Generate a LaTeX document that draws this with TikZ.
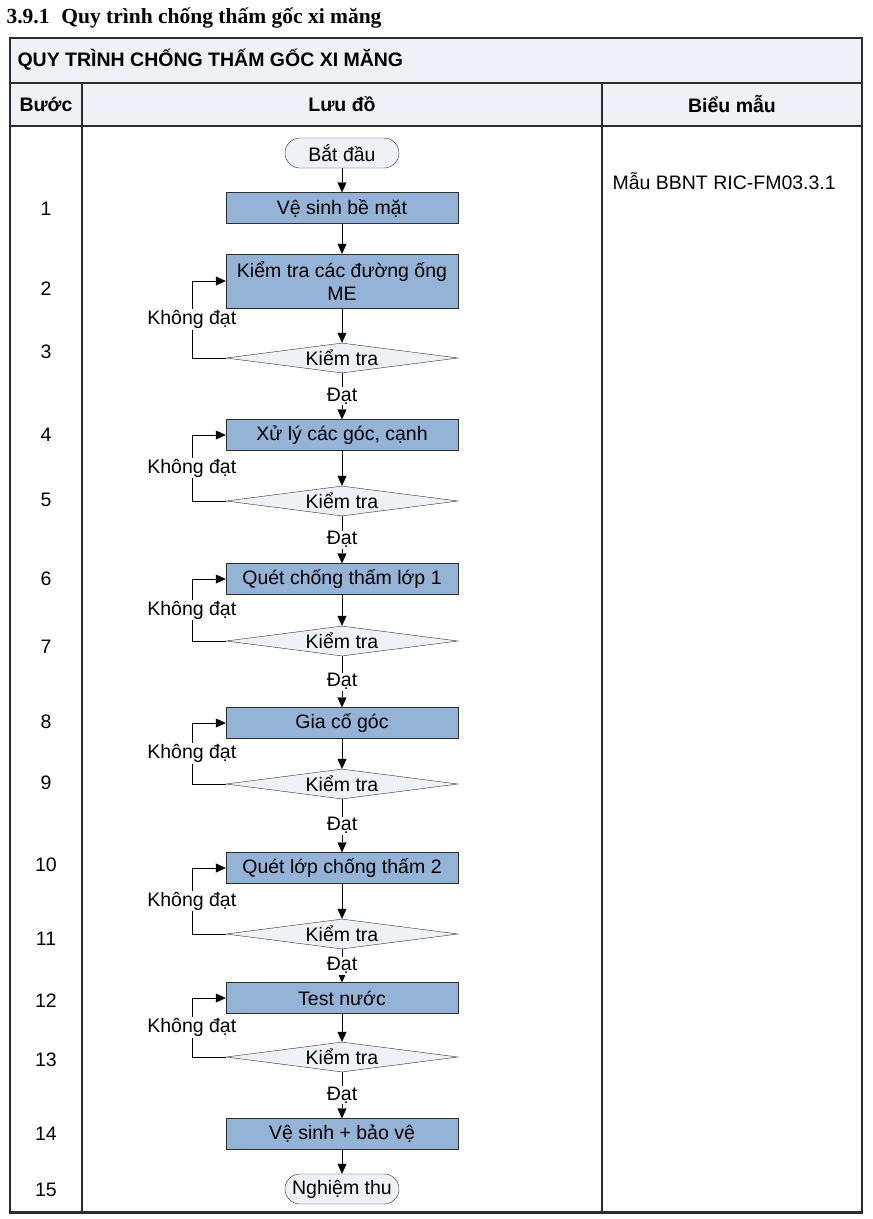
\documentclass[tikz,border=0pt]{standalone}
\usepackage{fontspec}
\setmainfont{Liberation Sans}
\newfontfamily\titlefont{Liberation Serif}
\usetikzlibrary{shapes.geometric,arrows.meta}

\definecolor{boxblue}{RGB}{149,179,215}
\definecolor{headgray}{RGB}{238,241,246}
\definecolor{rulegray}{RGB}{45,45,45}

\tikzset{
	proc/.style={draw=rulegray,fill=boxblue,minimum width=232pt,minimum height=31pt,inner sep=0pt,align=center},
	term/.style={draw=rulegray,fill=headgray,rounded corners=15pt,minimum width=114pt,minimum height=30pt,inner sep=0pt},
	chk/.style={diamond,draw=rulegray,fill=headgray,aspect=7.7,minimum width=232pt,minimum height=30pt,inner sep=0pt},
	flow/.style={-{Triangle[length=10pt,width=9pt]},black},
	lbl/.style={fill=white,inner sep=1pt}
}

\begin{document}
\begin{tikzpicture}[x=1pt,y=-1pt,font=\fontsize{19.5}{23}\selectfont]
			\useasboundingbox (0,0) rectangle (873,1219);
			
			\node[anchor=base west,font=\titlefont\bfseries\fontsize{21.5}{24}\selectfont] (title) at (3,23) {3.9.1\hspace{0.3em} Quy trình chống thấm gốc xi măng};
			
			\fill[headgray] (10,38) rectangle (862,126);
			\draw[rulegray,line width=1.5pt] (10,38) rectangle (862,1212);
			\draw[rulegray,line width=1.5pt] (10,83) -- (862,83);
			\draw[rulegray,line width=1.5pt] (10,126) -- (862,126);
			\draw[rulegray,line width=1.5pt] (82,83) -- (82,1212);
			\draw[rulegray,line width=1.5pt] (602,83) -- (602,1212);
			\draw[rulegray,line width=3pt] (9,1212) -- (863,1212);
			
			\node[anchor=west,font=\bfseries\fontsize{19.5}{23}\selectfont] (head) at (14,60) {QUY TRÌNH CHỐNG THẤM GỐC XI MĂNG};
			\node[font=\bfseries\fontsize{19.5}{23}\selectfont] (hstep) at (46,104) {Bước};
			\node[font=\bfseries\fontsize{19.5}{23}\selectfont] (hflow) at (342,104) {Lưu đồ};
			\node[font=\bfseries\fontsize{19.5}{23}\selectfont] (hform) at (732,104) {Biểu mẫu};
			\node[anchor=west] (form) at (609,181) {Mẫu BBNT RIC-FM03.3.1};
			
			\foreach \n/\y in {1/209,2/289,3/352,4/435,5/500,6/579,7/647,8/722,9/783,10/865,11/939,12/1001,13/1060,14/1134,15/1190}
				\node (n\n) at (46,\y) {\n};
			
			\node[term] (start) at (342,153) {Bắt đầu};
			\node[proc] (s1) at (342,208) {Vệ sinh bề mặt};
			\node[proc,minimum height=54pt] (s2) at (342,281) {Kiểm tra các đường ống\\ME};
			\node[chk] (c3) at (342,358) {Kiểm tra};
			\node[proc] (s4) at (342,435) {Xử lý các góc, cạnh};
			\node[chk] (c5) at (342,501) {Kiểm tra};
			\node[proc] (s6) at (342,579) {Quét chống thấm lớp 1};
			\node[chk] (c7) at (342,641) {Kiểm tra};
			\node[proc] (s8) at (342,723) {Gia cố góc};
			\node[chk] (c9) at (342,784) {Kiểm tra};
			\node[proc] (s10) at (342,868) {Quét lớp chống thấm 2};
			\node[chk] (c11) at (342,934) {Kiểm tra};
			\node[proc] (s12) at (342,998) {Test nước};
			\node[chk] (c13) at (342,1057) {Kiểm tra};
			\node[proc] (s14) at (342,1134) {Vệ sinh + bảo vệ};
			\node[term] (stop) at (342,1189) {Nghiệm thu};
			
			\draw[flow] (start) -- (s1);
			\draw[flow] (s1) -- (s2);
			\draw[flow] (s2) -- (c3);
			\draw[flow] (s4) -- (c5);
			\draw[flow] (s6) -- (c7);
			\draw[flow] (s8) -- (c9);
			\draw[flow] (s10) -- (c11);
			\draw[flow] (s12) -- (c13);
			\draw[flow] (s14) -- (stop);
			
			\foreach \c/\s in {c3/s4,c5/s6,c7/s8,c9/s10,c11/s12,c13/s14}
				\draw[flow] (\c) -- node[lbl] {Đạt} (\s);
			
			\foreach \c/\s in {c3/s2,c5/s4,c7/s6,c9/s8,c11/s10,c13/s12}
				\draw[flow] (\c.west) -| node[lbl,pos=0.75] {Không đạt} ([xshift=-34pt]\s.west) -- (\s.west);
		\end{tikzpicture}
\end{document}
